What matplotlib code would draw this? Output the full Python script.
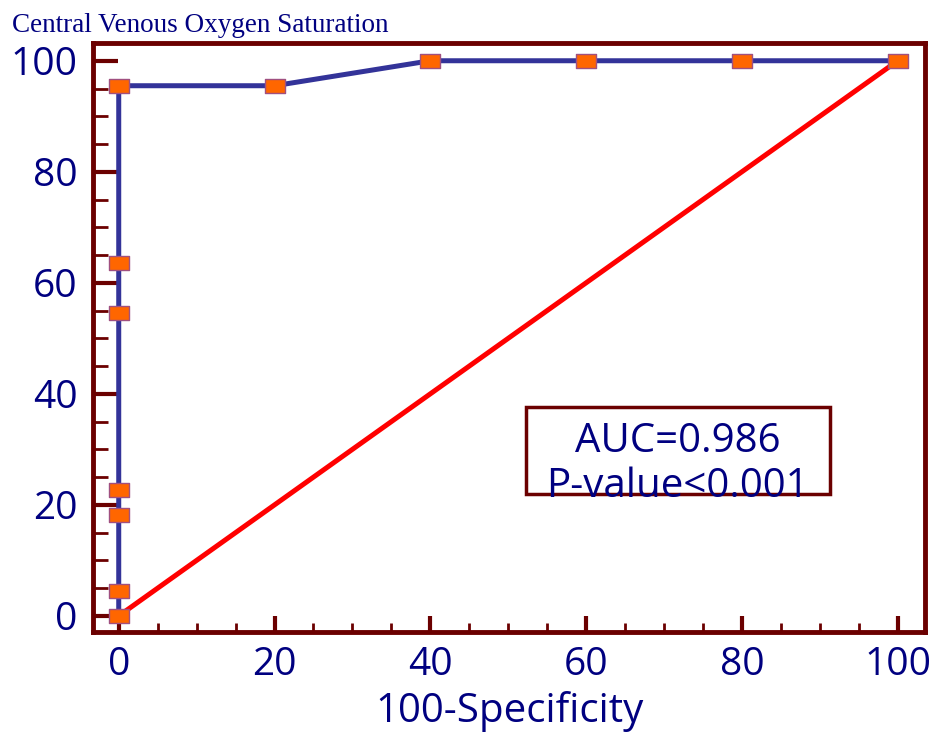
import matplotlib
matplotlib.use('Agg')
from matplotlib import pyplot as plt
from matplotlib.path import Path
from matplotlib.patches import Rectangle
from matplotlib.ticker import MultipleLocator

# ROC points (100-Specificity, Sensitivity)
fpr = [0, 0, 0, 0, 0, 0, 0, 20, 40, 60, 80, 100]
tpr = [0, 4.5, 18.2, 22.7, 54.5, 63.6, 95.5, 95.5, 100, 100, 100, 100]
ref_x = [0, 100]
ref_y = [0, 100]

title = 'Central Venous Oxygen Saturation'
xlabel = '100-Specificity'
auc_text = 'AUC=0.986'
p_text = 'P-value<0.001'

maroon = '#6b0000'
navy = '#000080'

plt.rcParams['font.family'] = ['Open Sans', 'DejaVu Sans']

fig = plt.figure(figsize=(9.33, 7.36), dpi=100)
ax = fig.add_axes([0.0997, 0.1413, 0.8917, 0.8003])

rect_marker = Path([(-1.4, -1), (1.4, -1), (1.4, 1), (-1.4, 1), (-1.4, -1)],
                   [Path.MOVETO, Path.LINETO, Path.LINETO, Path.LINETO, Path.CLOSEPOLY])

ax.plot(ref_x, ref_y, color='#ff0000', lw=3.6, zorder=2, solid_capstyle='round')
ax.plot(fpr, tpr, color='#333399', lw=3.6, zorder=3)
ax.plot(fpr, tpr, ls='none', marker=rect_marker, ms=14, mfc='#ff6600',
        mec='#a05080', mew=1, zorder=4)

ax.set_xlim(-3.3, 103.5)
ax.set_ylim(-2.9, 103.2)

for s in ax.spines.values():
    s.set_color(maroon)
    s.set_linewidth(3.5)

ax.xaxis.set_major_locator(MultipleLocator(20))
ax.xaxis.set_minor_locator(MultipleLocator(5))
ax.yaxis.set_major_locator(MultipleLocator(20))
ax.yaxis.set_minor_locator(MultipleLocator(5))

ax.tick_params(axis='both', which='both', direction='in', color=maroon,
               labelcolor=navy, labelsize=28, top=False, right=False)
ax.tick_params(axis='x', which='major', length=11.5, width=3, pad=10)
ax.tick_params(axis='x', which='minor', length=6.5, width=2)
ax.tick_params(axis='y', which='major', length=18, width=3, pad=11)
ax.tick_params(axis='y', which='minor', length=11, width=2)

ax.set_xlabel(xlabel, color=navy, fontsize=29, labelpad=5)

fig.text(0.013, 0.957, title, color=navy, fontsize=19.5,
         family=['Liberation Serif', 'DejaVu Serif'])

ax.add_patch(Rectangle((0.52, 0.234), 0.366, 0.148, transform=ax.transAxes,
                       fill=False, edgecolor=maroon, lw=2.5, zorder=5))
ax.text(0.703, 0.323, auc_text, transform=ax.transAxes, ha='center', va='center',
        color=navy, fontsize=29, zorder=6)
ax.text(0.703, 0.247, p_text, transform=ax.transAxes, ha='center', va='center',
        color=navy, fontsize=29, zorder=6)

fig.savefig('out.png', dpi=100)
